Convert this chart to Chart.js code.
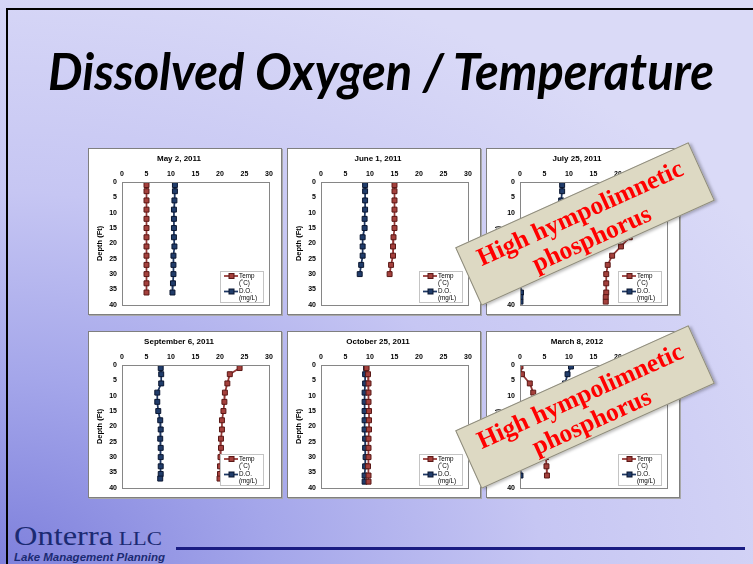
<!DOCTYPE html>
<html>
<head>
<meta charset="utf-8">
<script src="https://cdn.jsdelivr.net/npm/chart.js@4.4.0/dist/chart.umd.min.js"></script>
<style>
html, body { margin: 0; padding: 0; }
body {
    width: 753px; height: 564px; overflow: hidden; position: relative;
    background: radial-gradient(ellipse 900px 620px at 0% 100%, #7e80dc 0%, #a4a6ea 30%, #c6c6f3 60%, #dadaf7 100%);
    font-family: 'Liberation Sans', Arial, sans-serif;
}
.frame { position: absolute; left: 6px; top: 8px; width: 800px; height: 600px; border: 2px solid #000; }
.fit { position: absolute; white-space: nowrap; transform-origin: left top; line-height: 1; }
#title { left: 48px; top: 40px; font: italic bold 51px Lato, sans-serif; color: #000; }
#logo { left: 14px; top: 523px; font-family: 'Liberation Serif', serif; color: #1b2a72; }
#logo .big { font-size: 27px; }
#logo .small { font-size: 19px; }
#tagline { left: 14px; top: 552px; font: italic bold 10px 'Liberation Sans', Arial, sans-serif; color: #1b2a72; }
#rule { position: absolute; left: 176px; top: 547px; width: 569px; height: 3px; background: #1a1c82; }
.panel { position: absolute; width: 192px; height: 165px; background: #fff; border: 1px solid #7f7f7f; box-shadow: 1px 1px 0 #a8a8a8; }
.panel canvas { display: block; }
.stamp {
    position: absolute; width: 256px; height: 64px; box-sizing: border-box;
    background: #ddd9c3; border: 1px solid #8c8a7c; box-shadow: 2px 2px 3px rgba(0,0,0,0.25);
    transform: rotate(-24.3deg); transform-origin: center center;
    font: bold 25.5px 'Liberation Serif', 'Times New Roman', serif; color: #ff0000;
    text-align: center; line-height: 28px; padding-top: 5px;
}
</style>
</head>
<body>
<div class="frame"></div>
<div id="title" class="fit">Dissolved Oxygen / Temperature</div>

<div class="panel" style="left:88px; top:148px"><canvas id="c1" width="192" height="165"></canvas></div>
<div class="panel" style="left:287px; top:148px"><canvas id="c2" width="192" height="165"></canvas></div>
<div class="panel" style="left:486px; top:148px"><canvas id="c3" width="192" height="165"></canvas></div>
<div class="panel" style="left:88px; top:331px"><canvas id="c4" width="192" height="165"></canvas></div>
<div class="panel" style="left:287px; top:331px"><canvas id="c5" width="192" height="165"></canvas></div>
<div class="panel" style="left:486px; top:331px"><canvas id="c6" width="192" height="165"></canvas></div>

<div class="stamp" style="left:457px; top:192px">High hympolimnetic<br>phosphorus</div>
<div class="stamp" style="left:457px; top:375px">High hympolimnetic<br>phosphorus</div>

<div id="logo" class="fit"><span class="big">Onterra</span><span class="small"> LLC</span></div>
<div id="tagline" class="fit">Lake Management Planning</div>
<div id="rule"></div>

<script>
// данные профилей: глубина (фут), температура (°C), растворённый кислород (мг/л)
const panelTitles = ['May 2, 2011', 'June 1, 2011', 'July 25, 2011',
    'September 6, 2011', 'October 25, 2011', 'March 8, 2012'];
const seriesLabels = ['Temp\n(˚C)', 'D.O.\n(mg/L)'];
const axisTitle = 'Depth (Ft)';

const may2Depth = [1, 3, 6, 9, 12, 15, 18, 21, 24, 27, 30, 33, 36];
const may2Temp = [5.0, 5.0, 5.0, 5.0, 5.0, 5.0, 5.0, 5.0, 5.0, 5.0, 5.0, 5.0, 5.0];
const may2DO = [10.8, 10.8, 10.7, 10.6, 10.6, 10.6, 10.6, 10.7, 10.5, 10.5, 10.5, 10.4, 10.3];

const june1Depth = [1, 3, 6, 9, 12, 15, 18, 21, 24, 27, 30];
const june1Temp = [15.0, 15.0, 15.0, 15.0, 15.0, 15.0, 14.8, 14.7, 14.7, 14.3, 14.0];
const june1DO = [9.0, 9.0, 9.0, 9.0, 8.9, 8.9, 8.5, 8.5, 8.5, 8.2, 7.9];

const july25Depth = [1, 3, 6, 9, 12, 15, 18, 21, 24, 27, 30, 33, 36, 37.5, 39];
const july25Temp = [25.4, 25.4, 25.3, 25.0, 24.6, 23.8, 22.4, 20.6, 18.8, 17.9, 17.6, 17.6, 17.6, 17.5, 17.5];
const july25DO = [8.6, 8.6, 8.4, 7.2, 5.4, 3.0, 1.2, 0.5, 0.3, 0.2, 0.2, 0.2, 0.2, 0.1, 0.1];

const sep6Depth = [1, 3, 6, 9, 12, 15, 18, 21, 24, 27, 30, 33, 35.5, 37];
const sep6Temp = [24.0, 22.0, 21.5, 21.0, 20.9, 20.7, 20.4, 20.4, 20.2, 20.2, 20.1, 20.0, 20.0, 19.9];
const sep6DO = [7.9, 8.0, 8.0, 7.2, 7.2, 7.4, 7.8, 7.9, 7.8, 7.9, 7.9, 7.9, 7.9, 7.8];

const oct25Depth = [1, 3, 6, 9, 12, 15, 18, 21, 24, 27, 30, 33, 36, 38];
const oct25Temp = [9.3, 9.6, 9.7, 9.7, 9.7, 9.8, 9.8, 9.8, 9.7, 9.7, 9.7, 9.6, 9.7, 9.7];
const oct25DO = [9.2, 9.0, 9.0, 8.9, 8.9, 8.9, 8.9, 8.9, 9.0, 9.0, 9.1, 9.0, 8.9, 8.9];

const mar8Depth = [0.5, 3, 6, 9, 12, 15, 18, 21, 24, 27, 30, 33, 36];
const mar8Temp = [0.1, 0.4, 2.0, 2.7, 3.3, 3.8, 4.2, 4.6, 4.9, 5.1, 5.3, 5.4, 5.5];
const mar8DO = [10.4, 9.7, 9.2, 8.0, 6.5, 5.0, 3.8, 2.5, 1.5, 0.8, 0.4, 0.2, 0.1];

const font = "'Liberation Sans', Arial, sans-serif";
const tempLine = '#953735', tempFill = '#a4403c', tempEdge = '#5a1816';
const doLine = '#1f3864', doFill = '#203c6a', doEdge = '#0a1630';

// рамка области построения + легенда внутри неё
const frameAndLegend = {
    id: 'frameAndLegend',
    afterDraw(chart) {
        const { ctx, chartArea: a } = chart;
        ctx.save();
        ctx.strokeStyle = '#868686';
        ctx.lineWidth = 1;
        ctx.strokeRect(Math.round(a.left) + 0.5, Math.round(a.top) + 0.5,
            Math.round(a.right - a.left), Math.round(a.bottom - a.top));

        const w = 43, h = 31;
        const lx = Math.round(a.right) - 6 - w, ly = Math.round(a.bottom) - 3 - h;
        ctx.fillStyle = '#fff';
        ctx.fillRect(lx, ly, w, h);
        ctx.strokeStyle = '#c4c4c4';
        ctx.strokeRect(lx + 0.5, ly + 0.5, w, h);

        ctx.font = '6.3px ' + font;
        ctx.textBaseline = 'middle';
        ctx.textAlign = 'left';
        chart.data.datasets.forEach((ds, i) => {
            const y = ly + 5 + i * 15.5;
            ctx.strokeStyle = ds.borderColor;
            ctx.lineWidth = 1.75;
            ctx.beginPath();
            ctx.moveTo(lx + 4, y);
            ctx.lineTo(lx + 18, y);
            ctx.stroke();
            ctx.fillStyle = ds.pointBackgroundColor;
            ctx.strokeStyle = ds.pointBorderColor;
            ctx.lineWidth = 1;
            ctx.fillRect(lx + 9, y - 2.5, 5, 5);
            ctx.strokeRect(lx + 9, y - 2.5, 5, 5);
            ctx.fillStyle = '#000';
            ds.label.split('\n').forEach((t, k) => ctx.fillText(t, lx + 19, y + k * 7));
        });
        ctx.restore();
    }
};

function makeChart(id, titleText, depth, temp, dox) {
    const ctx = document.getElementById(id).getContext('2d');
    const series = (vals, lbl, line, fill, edge) => ({
        label: lbl,
        data: depth.map((d, i) => ({ x: vals[i], y: d })),
        showLine: true,
        borderColor: line,
        borderWidth: 1.75,
        pointStyle: 'rect',
        pointRadius: 3.5,
        pointBackgroundColor: fill,
        pointBorderColor: edge,
        pointBorderWidth: 1
    });
    return new Chart(ctx, {
        type: 'scatter',
        data: {
            datasets: [
                series(temp, seriesLabels[0], tempLine, tempFill, tempEdge),
                series(dox, seriesLabels[1], doLine, doFill, doEdge)
            ]
        },
        options: {
            responsive: false,
            animation: false,
            devicePixelRatio: 1,
            layout: { padding: { left: 0, right: 12, top: 0, bottom: 7 } },
            plugins: {
                legend: { display: false },
                tooltip: { enabled: false },
                title: {
                    display: true, text: titleText, color: '#000',
                    font: { family: font, size: 8, weight: 'bold' },
                    padding: { top: 5, bottom: 3 }
                }
            },
            scales: {
                x: {
                    type: 'linear', position: 'top', min: 0, max: 30,
                    ticks: { stepSize: 5, color: '#000', padding: 4, maxRotation: 0, font: { family: font, size: 7, weight: 'bold' } },
                    grid: { display: false, drawTicks: false },
                    border: { display: false },
                    afterFit: s => { s.height = 15.4; }
                },
                y: {
                    type: 'linear', reverse: true, min: 0, max: 40,
                    ticks: { stepSize: 5, color: '#000', padding: 5, font: { family: font, size: 7, weight: 'bold' } },
                    title: {
                        display: true, text: axisTitle, color: '#000',
                        font: { family: font, size: 7.5, weight: 'bold' },
                        padding: { top: 6, bottom: 0 }
                    },
                    grid: { display: false, drawTicks: false },
                    border: { display: false },
                    afterFit: s => { s.width = 33; }
                }
            }
        },
        plugins: [frameAndLegend]
    });
}

makeChart('c1', panelTitles[0], may2Depth, may2Temp, may2DO);
makeChart('c2', panelTitles[1], june1Depth, june1Temp, june1DO);
makeChart('c3', panelTitles[2], july25Depth, july25Temp, july25DO);
makeChart('c4', panelTitles[3], sep6Depth, sep6Temp, sep6DO);
makeChart('c5', panelTitles[4], oct25Depth, oct25Temp, oct25DO);
makeChart('c6', panelTitles[5], mar8Depth, mar8Temp, mar8DO);

// подгоняем ширину текстов под оригинал
function fitWidth(el, target) {
    const w = el.getBoundingClientRect().width;
    if (w > 0) el.style.transform = 'scaleX(' + (target / w) + ')';
}
fitWidth(document.getElementById('title'), 666);
fitWidth(document.getElementById('logo'), 148);
fitWidth(document.getElementById('tagline'), 151);
</script>
</body>
</html>
